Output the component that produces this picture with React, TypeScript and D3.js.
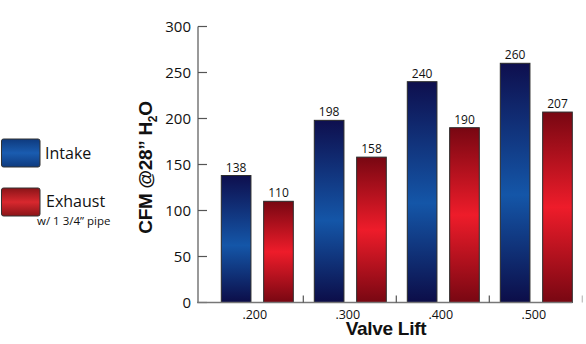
import React from "react";
import * as d3 from "d3";

const categories = [".200", ".300", ".400", ".500"];
const seriesNames = ["Intake", "Exhaust"];
const intakeValues = [138, 198, 240, 260];
const exhaustValues = [110, 158, 190, 207];
const yTicks = [0, 50, 100, 150, 200, 250, 300];

export default function App() {
  const W = 586, H = 344;
  const y = d3.scaleLinear().domain([0, 300]).range([302.5, 26.5]);
  const x0 = d3.scaleBand().domain(categories).range([210.3, 582.3]).padding(0);
  const x1 = d3.scaleBand().domain(seriesNames).range([11, 83]).paddingInner(0.3);
  const axisX = 198;
  const baseY = y(0);
  const lastCat = categories[categories.length - 1];
  const axisEnd = (x0(lastCat) as number) + (x1("Exhaust") as number) + x1.bandwidth();
  const font = "'Liberation Sans', Arial, sans-serif";
  const fontNum = "'Open Sans', 'Noto Sans', sans-serif";
  const data = [intakeValues, exhaustValues];

  return (
    <svg width={W} height={H} style={{ position: "absolute", left: 0, top: 0 }}>
      <defs>
        <linearGradient id="gBlue" x1="0" y1="0" x2="0" y2="1">
          <stop offset="0" stopColor="#0e0f4e" />
          <stop offset="0.55" stopColor="#1456a8" />
          <stop offset="1" stopColor="#0c0d48" />
        </linearGradient>
        <linearGradient id="gRed" x1="0" y1="0" x2="0" y2="1">
          <stop offset="0" stopColor="#780712" />
          <stop offset="0.5" stopColor="#ee1c2a" />
          <stop offset="1" stopColor="#780712" />
        </linearGradient>
        <linearGradient id="gBlueL" x1="0" y1="0" x2="0" y2="1">
          <stop offset="0" stopColor="#0e3a7e" />
          <stop offset="0.5" stopColor="#1a5cb0" />
          <stop offset="1" stopColor="#0e3a7e" />
        </linearGradient>
        <linearGradient id="gRedL" x1="0" y1="0" x2="0" y2="1">
          <stop offset="0" stopColor="#8a1418" />
          <stop offset="0.5" stopColor="#d8282e" />
          <stop offset="1" stopColor="#8a1418" />
        </linearGradient>
      </defs>
      <rect width={W} height={H} fill="#fff" />

      {/* Legend */}
      <rect x={1.5} y={139} width={38.5} height={28} rx={2} fill="url(#gBlueL)" stroke="#333" strokeWidth={1} />
      <text x={45} y={159} fontFamily={fontNum} fontSize={16} fill="#111">{seriesNames[0]}</text>
      <rect x={1.5} y={188} width={38.5} height={28} rx={2} fill="url(#gRedL)" stroke="#333" strokeWidth={1} />
      <text x={46} y={207} fontFamily={fontNum} fontSize={16} fill="#111">{seriesNames[1]}</text>
      <text x={37} y={225} fontFamily={fontNum} fontSize={11.5} fill="#111">w/ 1 3/4” pipe</text>

      {/* Bars */}
      {categories.map((c, i) =>
        seriesNames.map((s, j) => {
          const v = data[j][i];
          const bx = (x0(c) as number) + (x1(s) as number);
          const bw = x1.bandwidth();
          return (
            <g key={c + s}>
              <rect x={bx} y={y(v)} width={bw} height={baseY - y(v)}
                fill={j === 0 ? "url(#gBlue)" : "url(#gRed)"} stroke="#2a2a2a" strokeWidth={1} />
              <text x={bx + bw / 2} y={y(v) - 4} textAnchor="middle" fontFamily={fontNum} fontSize={12} fill="#111">{v}</text>
            </g>
          );
        })
      )}

      {/* Y axis */}
      <line x1={axisX} x2={axisX} y1={y(300)} y2={baseY} stroke="#777" strokeWidth={1.5} />
      {yTicks.map((t) => (
        <g key={t}>
          <line x1={axisX} x2={axisX + 9} y1={y(t)} y2={y(t)} stroke="#555" strokeWidth={1.2} />
          <text x={191} y={y(t) + 5.5} textAnchor="end" fontFamily={fontNum} fontSize={15} fill="#111">{t}</text>
        </g>
      ))}

      {/* X axis */}
      <line x1={axisX - 1} x2={axisEnd} y1={baseY} y2={baseY} stroke="#777" strokeWidth={1.5} />
      {categories.map((c, i) => {
        const bx = (x0(c) as number) + x0.bandwidth();
        const last = i === categories.length - 1;
        return (
          <line key={"t" + c} x1={bx} x2={bx} y1={baseY - 7} y2={baseY} stroke={last ? "#bbb" : "#555"} strokeWidth={1.2} />
        );
      })}
      {categories.map((c) => (
        <text key={"l" + c} x={(x0(c) as number) + x0.bandwidth() / 2 - 2} y={318.5} textAnchor="middle" fontFamily={fontNum} fontSize={12.5} fill="#111">{c}</text>
      ))}
      <text x={386} y={335} textAnchor="middle" fontFamily={font} fontWeight="bold" fontSize={19} fill="#111" letterSpacing={-0.3}>Valve Lift</text>

      {/* Y label */}
      <text transform={`translate(152,167.5) rotate(-90)`} textAnchor="middle" fontFamily={font} fontWeight="bold" fontSize={19} fill="#111" letterSpacing={-0.3}>
        CFM @28” H<tspan fontSize={12} dy={5}>2</tspan><tspan dy={-5}>O</tspan>
      </text>
    </svg>
  );
}
